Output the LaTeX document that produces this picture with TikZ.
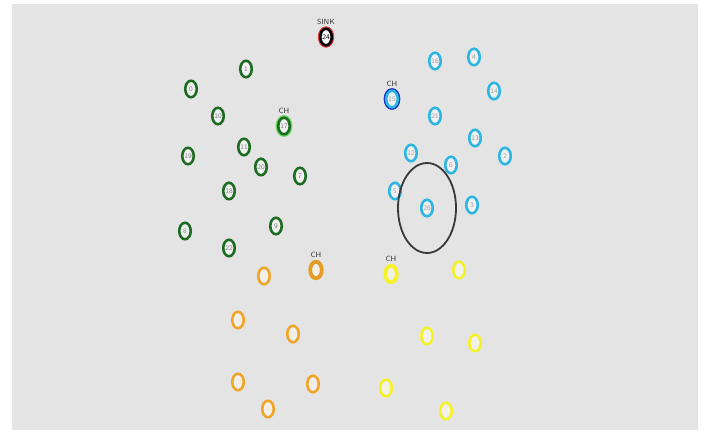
\documentclass[tikz,border=0pt]{standalone}
\usepackage{xcolor}
\usepackage{tikz}
\usetikzlibrary{positioning,shapes.geometric}
\definecolor{bgc}{HTML}{E4E4E4}
\definecolor{grn}{HTML}{1E6B22}
\definecolor{lgrn}{HTML}{66D95A}
\definecolor{cyn}{HTML}{2DB6E2}
\definecolor{dblu}{HTML}{1C35C8}
\definecolor{orn}{HTML}{F0A526}
\definecolor{ylw}{HTML}{F6F22A}
\definecolor{snkred}{HTML}{E8353A}
\begin{document}
\begin{tikzpicture}[x=1pt,y=-1pt,
  nd/.style={ellipse,draw,line width=2.6pt,minimum width=11.5pt,minimum height=16.5pt,
    inner sep=0pt,fill=bgc!55!white,font=\sffamily\fontsize{7}{7}\selectfont},
  gn/.style={nd,draw=grn,text=gray},
  cy/.style={nd,draw=cyn,text=gray!75},
  og/.style={nd,draw=orn,text=white!75!orn},
  yl/.style={nd,draw=ylw,text=white!70!ylw},
  gnch/.style={gn,preaction={draw=lgrn,line width=5.2pt}},
  cych/.style={cy,preaction={draw=dblu,line width=5.2pt}},
  ogch/.style={og,line width=3.8pt,draw=orn!95!black},
  ylch/.style={yl,line width=3.8pt},
  sink/.style={nd,draw=black,text=black,fill=white!90!bgc,
    preaction={draw=snkred,line width=4.8pt}},
  lab/.style={font=\sffamily\fontsize{7.5}{7.5}\selectfont,inner sep=0pt,text=black!80},
  ring/.style={draw=gray!45!black,line width=1.8pt}]
\useasboundingbox (0,0) rectangle (707,434);
\fill[bgc] (12,4) rectangle (698,430);
\node[sink] (n24) at (326,37) {24};
\node[lab,above=2.5pt of n24] (sinklab) {SINK};
\node[gn] (n1) at (246,69) {1};
\node[gn] (n0) at (191,89) {0};
\node[gn] (n10) at (218,116) {10};
\node[gnch] (n17) at (284,126) {17};
\node[lab,above=2.5pt of n17] (ch17) {CH};
\node[gn] (n19) at (188,156) {19};
\node[gn] (n11) at (244,147) {11};
\node[gn] (n20) at (261,167) {20};
\node[gn] (n7) at (300,176) {7};
\node[gn] (n18) at (229,191) {18};
\node[gn] (n8) at (185,231) {8};
\node[gn] (n9) at (276,226) {9};
\node[gn] (n22) at (229,248) {22};
\node[cy] (n16) at (435,61) {16};
\node[cy] (n4) at (474,57) {4};
\node[cych] (n15) at (392,99) {15};
\node[lab,above=2.5pt of n15] (ch15) {CH};
\node[cy] (n14) at (494,91) {14};
\node[cy] (n21) at (435,116) {21};
\node[cy] (n13) at (475,138) {13};
\node[cy] (n12) at (411,153) {12};
\node[cy] (n2) at (505,156) {2};
\node[cy] (n6) at (451,165) {6};
\node[cy] (n5) at (395,191) {5};
\node[cy] (n3) at (472,205) {3};
\node[cy] (n26) at (427,208) {26};
\node[og] (n23) at (264,276) {23};
\node[ogch] (n25) at (316,270) {25};
\node[lab,above=2.5pt of n25] (ch25) {CH};
\node[og] (n27) at (238,320) {27};
\node[og] (n31) at (293,334) {31};
\node[og] (n28) at (238,382) {28};
\node[og] (n30) at (313,384) {30};
\node[og] (n29) at (268,409) {29};
\node[ylch] (n33) at (391,274) {33};
\node[lab,above=2.5pt of n33] (ch33) {CH};
\node[yl] (n32) at (459,270) {32};
\node[yl] (n34) at (427,336) {34};
\node[yl] (n35) at (475,343) {35};
\node[yl] (n36) at (386,388) {36};
\node[yl] (n37) at (446,411) {37};
\draw[ring] (n26.center) ellipse (29 and 45);
\end{tikzpicture}
\end{document}
